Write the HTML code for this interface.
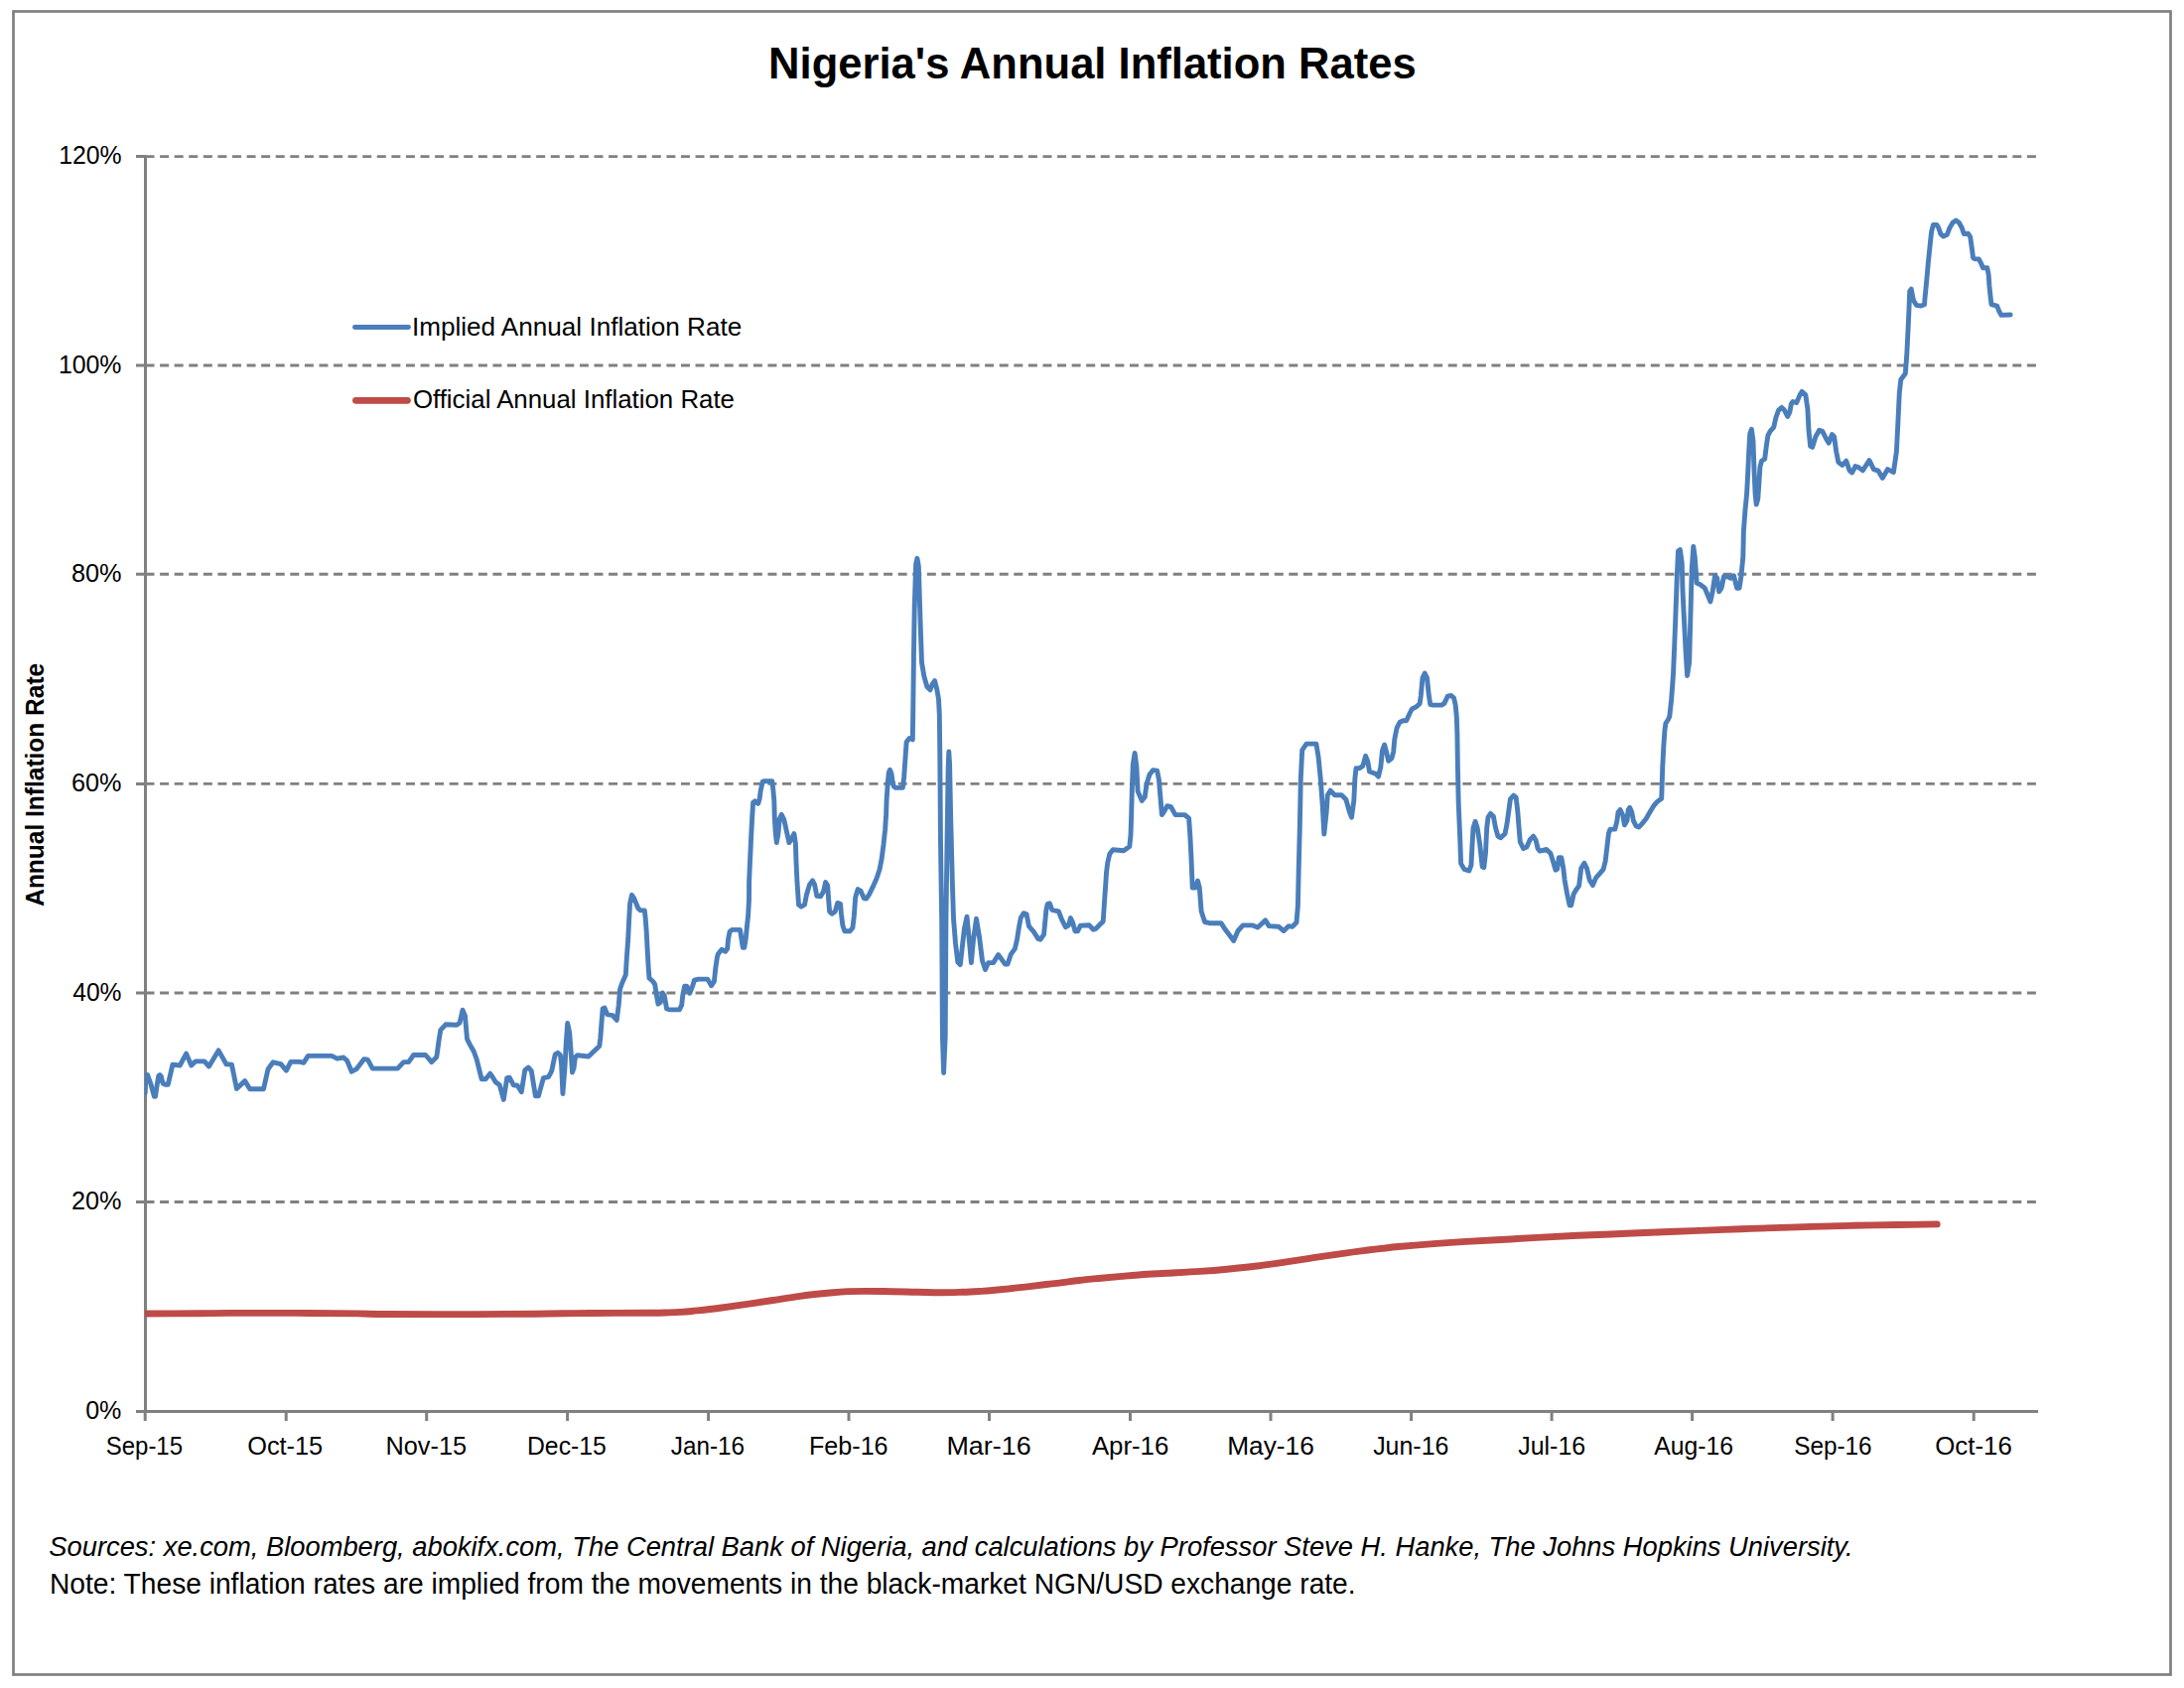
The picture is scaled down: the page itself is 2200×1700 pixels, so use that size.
<!DOCTYPE html><html><head><meta charset="utf-8"><title>Nigeria's Annual Inflation Rates</title>
<style>html,body{margin:0;padding:0;background:#fff;width:2200px;height:1700px;overflow:hidden}svg{display:block}text{font-family:"Liberation Sans",Arial,sans-serif;fill:#000}</style></head><body>
<svg width="2200" height="1700" viewBox="0 0 2200 1700">
<rect width="2200" height="1700" fill="#fff"/>
<rect x="13.5" y="11.5" width="2173" height="1675" fill="none" stroke="#808080" stroke-width="2.7"/>
<path d="M146.5 1210.5H2053M146.5 1000H2053M146.5 789.4H2053M146.5 578.3H2053M146.5 368H2053M146.5 157.6H2053" stroke="#808080" stroke-width="2.9" stroke-dasharray="9 5.58" fill="none"/>
<path d="M146.5 156.3V1421.4M145.2 1421.4H2053M137 1421.4H146.5M137 1210.5H146.5M137 1000H146.5M137 789.4H146.5M137 578.3H146.5M137 368H146.5M137 157.6H146.5M146.2 1421.4V1431M288.2 1421.4V1431M429.7 1421.4V1431M571.6 1421.4V1431M713.6 1421.4V1431M855 1421.4V1431M996.5 1421.4V1431M1138.5 1421.4V1431M1280 1421.4V1431M1421.6 1421.4V1431M1563.1 1421.4V1431M1704.6 1421.4V1431M1846.1 1421.4V1431M1988.2 1421.4V1431" stroke="#808080" stroke-width="3" fill="none"/>
<defs><clipPath id="pa"><rect x="146" y="100" width="1910" height="1330"/></clipPath></defs><g clip-path="url(#pa)">
<path d="M146 1323 C155 1323 186 1322.9 200 1322.8 C214 1322.7 213.3 1322.5 230 1322.4 C246.7 1322.3 278.3 1322.3 300 1322.4 C321.7 1322.5 345 1322.7 360 1322.9 C375 1323.1 370 1323.4 390 1323.5 C410 1323.6 455 1323.6 480 1323.6 C505 1323.5 523.3 1323.4 540 1323.2 C556.7 1323 566.7 1322.7 580 1322.6 C593.3 1322.5 608.3 1322.5 620 1322.4 C631.7 1322.4 641.7 1322.4 650 1322.3 C658.3 1322.2 664.2 1322.2 670 1322 C675.8 1321.8 680.5 1321.7 685 1321.4 C689.5 1321.2 690.6 1321.2 697 1320.5 C703.4 1319.8 714.6 1318.7 723.6 1317.5 C732.6 1316.3 741.9 1314.9 751.1 1313.6 C760.3 1312.3 769.5 1310.9 778.6 1309.5 C787.8 1308.1 796.9 1306.6 806 1305.4 C815.1 1304.2 825.5 1303.1 833.5 1302.3 C841.5 1301.5 844.6 1300.9 854 1300.6 C863.4 1300.3 878.3 1300.4 890 1300.5 C901.7 1300.6 914.3 1301.1 924 1301.3 C933.7 1301.5 940.3 1301.8 948 1301.8 C955.7 1301.8 963.3 1301.5 970 1301.3 C976.7 1301.1 983 1300.7 988 1300.4 C993 1300.1 994.8 1300 1000 1299.5 C1005.2 1299 1013.3 1298.2 1019.5 1297.5 C1025.7 1296.8 1031.2 1296.3 1037 1295.6 C1042.8 1294.9 1048.4 1294.2 1054 1293.5 C1059.6 1292.8 1065 1292.3 1070.5 1291.6 C1076 1290.9 1081 1290.2 1087 1289.5 C1093 1288.8 1099.3 1288.2 1106.5 1287.5 C1113.7 1286.8 1121.8 1286.1 1130 1285.4 C1138.2 1284.7 1148.5 1283.8 1156 1283.3 C1163.5 1282.8 1166.2 1282.8 1175 1282.3 C1183.8 1281.8 1198.3 1281.1 1208.5 1280.4 C1218.7 1279.7 1226.4 1279.1 1236 1278.2 C1245.6 1277.3 1256.6 1276.2 1266 1275 C1275.4 1273.8 1283.7 1272.6 1292.5 1271.3 C1301.3 1270 1310.1 1268.6 1319 1267.3 C1327.9 1266 1336.7 1264.6 1346 1263.3 C1355.3 1262 1364.6 1260.7 1375 1259.4 C1385.4 1258.1 1397.1 1256.6 1408.6 1255.5 C1420.1 1254.4 1432.6 1253.4 1444 1252.6 C1455.4 1251.8 1465.7 1251.1 1477 1250.4 C1488.3 1249.7 1500.1 1249.2 1512 1248.5 C1523.9 1247.8 1535.6 1247.1 1548.5 1246.4 C1561.4 1245.7 1574.5 1245 1589.5 1244.3 C1604.5 1243.6 1622.1 1243 1638.5 1242.3 C1654.9 1241.6 1671.6 1240.9 1688 1240.3 C1704.4 1239.7 1724.5 1238.9 1737 1238.4 C1749.5 1237.9 1753.6 1237.7 1763 1237.4 C1772.4 1237.1 1783.1 1236.7 1793.4 1236.4 C1803.7 1236.1 1812.5 1235.8 1824.6 1235.4 C1836.7 1235.1 1851.4 1234.6 1866 1234.3 C1880.6 1234 1897.8 1233.7 1912 1233.5 C1926.2 1233.3 1944.7 1233 1951.2 1232.9" stroke="#BE4B48" stroke-width="6.9" fill="none" stroke-linecap="round" stroke-linejoin="round"/>
<path d="M146.2 1101 L146.9 1083 L148.6 1082.6 L152 1092 L155.4 1104.3 L156.5 1104.3 L158.3 1092 L159.8 1083.5 L161 1082.6 L162.3 1084 L164 1091 L166.6 1092.3 L169.3 1092.3 L173.9 1072.1 L181.2 1073 L187.6 1061.1 L192.7 1073 L196.8 1068.9 L205.9 1068.9 L210.5 1074 L220.1 1057.9 L227.9 1071.7 L233.4 1072.1 L238.4 1096.4 L246.7 1088.6 L251.7 1096.8 L265.5 1096.8 L270 1076.7 L275.1 1069.8 L282.9 1071.7 L288.4 1078.1 L292.9 1069.4 L302.1 1069.4 L305.8 1070.3 L310.3 1063.4 L334.1 1063.4 L339.6 1066.1 L346.1 1065 L349.6 1068.1 L354.2 1079.2 L359.2 1076.6 L366.8 1066.6 L370.3 1067.1 L375.3 1076.1 L400.5 1076.1 L406.6 1069.6 L411.6 1069.6 L416.6 1062.5 L428.7 1062.5 L434.8 1069.6 L439.8 1064.5 L442.3 1046.4 L443.8 1037.3 L448.9 1031.8 L460 1032.3 L463 1030.3 L466 1017.2 L468.5 1023.2 L470.5 1046.4 L473 1051.4 L477.1 1058.5 L480.1 1066.6 L485.1 1086.7 L489.2 1086.7 L493.7 1081.2 L496.2 1084.7 L499.2 1089.7 L503.3 1092.8 L507.3 1107.4 L510.7 1085.6 L513.2 1085.1 L517.2 1092.7 L521.2 1093.2 L525.3 1099.7 L528.8 1077.6 L532.3 1075 L535.3 1078.6 L539.4 1103.8 L542.4 1103.8 L547.4 1085.6 L552.5 1084.6 L555.7 1078.7 L557.9 1068 L559.3 1061.8 L561.9 1060.3 L564.4 1062.5 L565.6 1072 L566.9 1101.5 L569 1075 L570.3 1050 L571.7 1030.5 L573.7 1040 L575.2 1060 L576.5 1080 L578 1076 L579.5 1064.5 L581.5 1062.8 L592.8 1064 L603.8 1053.4 L604.8 1045.3 L605.8 1032.2 L607.1 1016 L609 1015 L611.8 1021.7 L617.1 1022.6 L621.3 1027.3 L623.2 1012.2 L624.6 996.1 L626.5 990.4 L630.3 981.8 L631.3 964.8 L632.7 945.8 L633.6 926.9 L634.6 909.8 L636.5 901.3 L638.9 905.1 L642.7 914.5 L645 916.9 L649.3 916.9 L650.2 925 L651.2 938.2 L652.1 955.3 L653.1 973.3 L654 985.2 L657.8 988.5 L659.7 991.3 L661.1 1000.8 L663 1011.2 L665.4 1009.3 L667.3 999.9 L669.2 1002.7 L671.6 1016 L674.9 1016.9 L684.4 1016.9 L686.7 1012.2 L687.7 1002.7 L689.6 993.2 L691.9 993.2 L694.8 1000.3 L697.6 993.2 L699.5 987.1 L703.3 986.1 L712.8 986.1 L716.6 992.7 L719.4 988.5 L720.9 974.3 L722.3 964.8 L723.2 961 L727 956.3 L730.8 958.2 L732.7 955.3 L733.6 945.8 L735.1 938.2 L737.4 936.4 L745.5 936.4 L746.4 942 L748.3 954.4 L749.8 954.4 L751.2 945.8 L752.1 936.4 L753.6 922.1 L754.5 906 L754.6 887.9 L755.6 865.7 L756.6 843.6 L757.6 824.5 L758.6 808.3 L760.6 806.8 L763.7 809.3 L765.2 804.3 L766.2 796.3 L768.2 787.2 L770.2 786.7 L777.8 786.7 L778.8 795.2 L779.8 806.3 L780.3 824.5 L781.3 839.6 L782.3 848.6 L783.8 840.6 L785.3 824.5 L787.3 820.4 L789.8 825.5 L792.4 837.5 L794.9 848.6 L797.4 844.6 L799.9 839.6 L801.4 849.6 L801.9 865.7 L802.9 886.9 L804.5 911.1 L807 913.1 L810.5 911.1 L812.5 901 L815.5 890.9 L818.5 886.9 L820.6 890.9 L822.8 902.3 L826.6 902.7 L829.5 898 L831.6 888.5 L833.7 891.8 L834.7 906.5 L835.6 917.9 L838 920.3 L841.3 917.9 L843.7 909.4 L846.5 910.3 L847.5 920.8 L848.9 932.1 L850.8 937.8 L856 937.8 L858.9 934.5 L860.3 922.7 L861.7 903.7 L864.1 895.6 L866.9 897.1 L870.2 904.6 L872.6 905.1 L875.5 900.9 L878.8 894.2 L883 884.7 L886 875.8 L888 865.7 L890 850.6 L891.6 835.5 L892.6 820.4 L893.1 805.3 L894.3 788 L895.3 778 L896.4 775.3 L897.8 778.5 L899 786 L900.3 792 L902.3 793.4 L909.3 793.4 L910.6 783 L911.6 768.8 L913.1 747.2 L916.2 743.4 L919.3 744.9 L919.8 711.8 L920.4 662.5 L921.2 611.6 L922.6 568 L923.9 562.3 L925.3 570 L926.6 611.6 L927.4 636.3 L928.5 667.1 L930.8 681 L933.9 691.8 L937 694.8 L939.3 688.7 L941.6 685.6 L943.9 694.8 L945.5 704.1 L946.3 719.5 L946.8 760 L947.5 850 L948.7 930 L949.4 1044 L950.6 1080.5 L952.2 1044 L952.9 930 L954 850 L955.1 775 L955.8 757 L956.6 770 L957.6 820 L959.3 887 L960.5 925 L962.5 950 L964.8 969 L967.3 971.6 L971.4 935.3 L974 923.2 L976.4 947.4 L978.4 969.6 L980.4 947.4 L983.5 925.3 L986.5 943.4 L989.5 967.6 L992.5 976.6 L995.5 969.6 L1000.6 969.6 L1005.6 961.5 L1010 967.7 L1012.5 971.1 L1015 971.1 L1018.3 961.1 L1022.4 955.3 L1024.5 946.2 L1026.6 932.9 L1028.2 924.6 L1031.1 919.7 L1034 920.5 L1036.5 932.9 L1041.5 938.7 L1045.7 945.4 L1048.1 946.2 L1051.5 941.2 L1052.7 928.8 L1053.9 916.3 L1055.2 910.5 L1057.3 909.7 L1059.8 916.3 L1063.1 917.2 L1066.4 918 L1069.7 926.3 L1073.4 933.7 L1076.3 932.1 L1078.4 924.6 L1080.5 928.8 L1083 937.9 L1085.5 937.9 L1088.4 932.1 L1097.1 931.7 L1101.2 936.2 L1103.7 935.4 L1107.8 931.3 L1111.2 927.9 L1112 916.3 L1112.8 903.9 L1113.7 891.5 L1114.5 879 L1115.7 869.1 L1117.8 860 L1121.1 855.8 L1131.9 856.8 L1137.8 852.6 L1139 840.8 L1139.6 823 L1140.4 793.3 L1141.3 769.6 L1143.1 758.4 L1144.9 772 L1146.1 796.9 L1150.2 806.4 L1153.2 802.8 L1155 789.8 L1157.9 780.3 L1161.5 775.6 L1165.6 776.2 L1167.4 785 L1168.6 799.3 L1170.4 820.6 L1172.8 817.1 L1175.7 811.7 L1179.3 812.3 L1184 820.6 L1193.5 820.6 L1197.6 824.2 L1198.8 840.8 L1200 864.5 L1201.2 894.1 L1204.2 894.1 L1206.5 887 L1208.3 894.1 L1210.1 917.8 L1213.6 928.5 L1218.4 929.7 L1230 929.7 L1234.2 936.1 L1238.5 941.8 L1242.7 947.5 L1247 937.5 L1252 931.9 L1261.9 931.9 L1266.9 934 L1274.7 926.9 L1278.3 932.6 L1288.2 933.3 L1293.2 937.5 L1298.2 932.6 L1301.8 933.3 L1306 929 L1307.4 912 L1308.2 876.4 L1309.3 833.7 L1310.3 784 L1311.7 755.5 L1316 749.1 L1325.9 749.1 L1328.1 762.7 L1330.2 784 L1332.3 812.4 L1333.8 840 L1336.2 817.6 L1337.3 800.7 L1340.1 796.2 L1344.6 800.7 L1351.4 800.7 L1355.9 805.2 L1359.3 817.6 L1361.5 823.2 L1363.8 806.3 L1364.9 783.8 L1366 773.7 L1369.4 773.7 L1372.8 771.4 L1375.6 761.3 L1377.8 766.9 L1379.5 777 L1382.9 778.2 L1385.7 779.3 L1388.5 782.1 L1390.8 772.5 L1392.5 755.7 L1394.7 750 L1397 759 L1398.6 766.3 L1402 763.5 L1403.7 756.8 L1404.8 744.4 L1407.1 733.1 L1409.9 727.5 L1413.3 725.8 L1416.7 725.8 L1420 718.5 L1422.3 714 L1426.8 711.8 L1430.2 708.4 L1431.3 700.5 L1433 682.5 L1435.2 678 L1437.5 682.5 L1439.2 699.4 L1440.8 709.5 L1443.7 710.1 L1452.1 710.1 L1454.9 708.4 L1458.3 701.1 L1461.7 700.5 L1464.5 702.8 L1466.2 710.6 L1467.3 721.9 L1467.9 738.8 L1468.4 772.5 L1469.2 809 L1470.8 846.3 L1471.6 869.6 L1474.9 875.4 L1479.9 877 L1482 871.2 L1482.8 854.6 L1484 833.9 L1486.1 827.3 L1488.2 833.9 L1490.7 850.5 L1493.2 872.9 L1494.8 873.7 L1496.5 858.8 L1497.7 833.9 L1499 823.1 L1501.5 819.4 L1504.4 822.3 L1506.4 833.1 L1508.9 842.2 L1511.4 843.8 L1516 839.7 L1518 829.8 L1519.7 817.3 L1521.4 804.9 L1524.7 801.1 L1527.2 803.2 L1528.8 817.3 L1530.1 833.9 L1531.3 848 L1534.6 854.6 L1537.9 853 L1541.3 845.5 L1544.6 842.2 L1547.1 846.3 L1549.1 854.6 L1551.2 857.1 L1557.8 855.5 L1562 859.6 L1564.5 867.9 L1567 876.2 L1568.6 875.4 L1570.3 863.7 L1572.8 863.7 L1574.8 874.5 L1576.1 886.1 L1578.6 900.2 L1581.1 911.8 L1582.7 911.8 L1585.2 900.2 L1587.7 896.1 L1590.6 892 L1592.7 874.6 L1595.9 869.2 L1598.5 874.6 L1601.2 886.3 L1604.4 891.6 L1607.6 884.1 L1611.3 879.9 L1615 875.6 L1617.2 867.1 L1618.8 853.2 L1620.4 839.4 L1622 835.1 L1626.8 835.1 L1628.9 826.6 L1630 818.1 L1632.1 815.4 L1634.8 821.3 L1636.4 830.9 L1639 826.6 L1640.1 815.9 L1641.7 813.3 L1643.8 818.1 L1645.4 826.6 L1648.1 831.9 L1650.8 833 L1654 829.8 L1658.2 824.5 L1662.5 817 L1665.7 811.7 L1669.4 807.4 L1673.7 804.2 L1674.2 789.3 L1674.7 773.3 L1675.8 752 L1676.9 736 L1677.9 728.5 L1680.6 724.3 L1681.8 721.5 L1683.7 704.1 L1685.5 679.3 L1686.8 648.2 L1688 617.1 L1689.3 579.8 L1690.5 554.9 L1692.4 553.6 L1694.3 567.3 L1694.9 592.2 L1696.1 617.1 L1698 654.4 L1699.6 680.5 L1701.7 666.8 L1703 617.1 L1704.2 573.5 L1705.8 550.5 L1707.3 561.1 L1709.2 587.2 L1712.3 588.5 L1717.3 592.2 L1720.4 599.7 L1722.9 605.9 L1725.3 594.7 L1727.5 579.8 L1729.7 582.2 L1731.6 595.9 L1734.1 592.2 L1736.5 580.4 L1740.9 581 L1743.4 582.2 L1746.5 579.8 L1749.6 592.2 L1752.1 592.2 L1754 579.8 L1755.8 561.1 L1756.4 534.6 L1758 513.3 L1759.6 497.3 L1760.7 476 L1761.7 454.7 L1762.8 436.5 L1764.4 432.3 L1766 444 L1767.1 476 L1768.1 497.3 L1769.2 508 L1770.8 502.6 L1771.9 486.6 L1772.9 470.6 L1774.5 464.2 L1777.7 462.1 L1779.3 449.3 L1780.9 438.7 L1783.1 434.4 L1786.8 430.1 L1788.9 420.5 L1791.6 413.1 L1794.8 410.4 L1797.5 413.1 L1800.7 419.5 L1802.8 415.2 L1804.4 406.7 L1806 404.5 L1809.7 405.6 L1812.9 398.1 L1815.1 394.4 L1818.8 397.6 L1820.9 412 L1822 433.3 L1823.6 449.3 L1825.7 450.4 L1828.9 439.7 L1832.6 433.3 L1835.8 434.4 L1839.6 441.9 L1842.2 446.1 L1845.4 437.6 L1847.6 439.7 L1849.7 454.7 L1851.8 465.3 L1855.6 468.5 L1859.8 464.2 L1863 473.8 L1865.7 476 L1868.9 469.6 L1872.1 470.6 L1876.4 473.8 L1883 463.7 L1887.4 472.6 L1891.9 474.1 L1896.3 481.5 L1901.5 472.6 L1907.4 475.6 L1910.4 454.8 L1911.9 425.2 L1913.3 395.6 L1914.8 382.2 L1919.3 376.3 L1920.7 358.5 L1922.2 328.9 L1923 311.1 L1923.7 293.3 L1925.2 291.1 L1927.4 302.2 L1930.4 307.4 L1935 308.1 L1938.5 306.7 L1939.2 298.2 L1940.3 287.5 L1941.4 275.4 L1942.4 264.1 L1943.5 253.4 L1944.6 242.7 L1945.6 233.5 L1947.4 226.4 L1951 226.4 L1952.7 229.2 L1954.9 235.6 L1957.7 238.1 L1961.3 236.3 L1964.1 229.2 L1967 224.3 L1970.2 222.1 L1973.4 224.3 L1976.2 229.2 L1978.3 235.6 L1982.6 235.3 L1984.7 238.5 L1986.1 248.4 L1987.6 259.8 L1989.7 260.9 L1993.3 260.9 L1995.4 264.8 L1997.5 269.8 L2001.8 269.8 L2003.2 276.9 L2003.9 287.5 L2005 298.2 L2006 306.7 L2008.9 307.4 L2011.7 308.1 L2013.9 313.8 L2016 317.4 L2025.2 317" stroke="#4A7EBB" stroke-width="4.9" fill="none" stroke-linecap="round" stroke-linejoin="round"/>
</g>
<path d="M357.4 329.5H411.5" stroke="#4A7EBB" stroke-width="4.8" stroke-linecap="round"/>
<path d="M358.5 403.35H410.4" stroke="#BE4B48" stroke-width="6.9" stroke-linecap="round"/>
<text x="774.1" y="79.2" font-size="43.6" textLength="652.6" lengthAdjust="spacingAndGlyphs" font-weight="bold">Nigeria's Annual Inflation Rates</text>
<text x="122.6" y="165.1" font-size="25.6" textLength="63.4" lengthAdjust="spacingAndGlyphs" text-anchor="end">120%</text>
<text x="122.5" y="375.5" font-size="25.6" textLength="63.6" lengthAdjust="spacingAndGlyphs" text-anchor="end">100%</text>
<text x="122.6" y="585.8" font-size="25.6" textLength="50.6" lengthAdjust="spacingAndGlyphs" text-anchor="end">80%</text>
<text x="122.5" y="796.9" font-size="25.6" textLength="50.5" lengthAdjust="spacingAndGlyphs" text-anchor="end">60%</text>
<text x="122.5" y="1007.5" font-size="25.6" textLength="49.3" lengthAdjust="spacingAndGlyphs" text-anchor="end">40%</text>
<text x="122.5" y="1218" font-size="25.6" textLength="50.5" lengthAdjust="spacingAndGlyphs" text-anchor="end">20%</text>
<text x="122.4" y="1428.9" font-size="25.6" textLength="36.2" lengthAdjust="spacingAndGlyphs" text-anchor="end">0%</text>
<text x="145.4" y="1465" font-size="26" textLength="77.2" lengthAdjust="spacingAndGlyphs" text-anchor="middle">Sep-15</text>
<text x="287.2" y="1465" font-size="26" textLength="76" lengthAdjust="spacingAndGlyphs" text-anchor="middle">Oct-15</text>
<text x="429.3" y="1465" font-size="26" textLength="81.5" lengthAdjust="spacingAndGlyphs" text-anchor="middle">Nov-15</text>
<text x="570.9" y="1465" font-size="26" textLength="79.8" lengthAdjust="spacingAndGlyphs" text-anchor="middle">Dec-15</text>
<text x="712.9" y="1465" font-size="26" textLength="74.3" lengthAdjust="spacingAndGlyphs" text-anchor="middle">Jan-16</text>
<text x="854.8" y="1465" font-size="26" textLength="79.6" lengthAdjust="spacingAndGlyphs" text-anchor="middle">Feb-16</text>
<text x="996" y="1465" font-size="26" textLength="85.2" lengthAdjust="spacingAndGlyphs" text-anchor="middle">Mar-16</text>
<text x="1138.6" y="1465" font-size="26" textLength="77.4" lengthAdjust="spacingAndGlyphs" text-anchor="middle">Apr-16</text>
<text x="1280" y="1465" font-size="26" textLength="87.6" lengthAdjust="spacingAndGlyphs" text-anchor="middle">May-16</text>
<text x="1421.3" y="1465" font-size="26" textLength="76.3" lengthAdjust="spacingAndGlyphs" text-anchor="middle">Jun-16</text>
<text x="1563.2" y="1465" font-size="26" textLength="67.9" lengthAdjust="spacingAndGlyphs" text-anchor="middle">Jul-16</text>
<text x="1706.2" y="1465" font-size="26" textLength="79.8" lengthAdjust="spacingAndGlyphs" text-anchor="middle">Aug-16</text>
<text x="1846.4" y="1465" font-size="26" textLength="78.5" lengthAdjust="spacingAndGlyphs" text-anchor="middle">Sep-16</text>
<text x="1988" y="1465" font-size="26" textLength="77.5" lengthAdjust="spacingAndGlyphs" text-anchor="middle">Oct-16</text>
<text x="414.9" y="337.5" font-size="25.7" textLength="332.3" lengthAdjust="spacingAndGlyphs">Implied Annual Inflation Rate</text>
<text x="415.9" y="411" font-size="25.7" textLength="324.1" lengthAdjust="spacingAndGlyphs">Official Annual Inflation Rate</text>
<text x="44.2" y="790.3" font-size="26.2" textLength="245" lengthAdjust="spacingAndGlyphs" text-anchor="middle" font-weight="bold" transform="rotate(-90 44.2 790.3)">Annual Inflation Rate</text>
<text x="49.3" y="1567.4" font-size="28.4" textLength="1817.3" lengthAdjust="spacingAndGlyphs" font-style="italic">Sources: xe.com, Bloomberg, abokifx.com, The Central Bank of Nigeria, and calculations by Professor Steve H. Hanke, The Johns Hopkins University.</text>
<text x="50" y="1604.9" font-size="28.7" textLength="1315.6" lengthAdjust="spacingAndGlyphs">Note: These inflation rates are implied from the movements in the black-market NGN/USD exchange rate.</text>
</svg></body></html>
